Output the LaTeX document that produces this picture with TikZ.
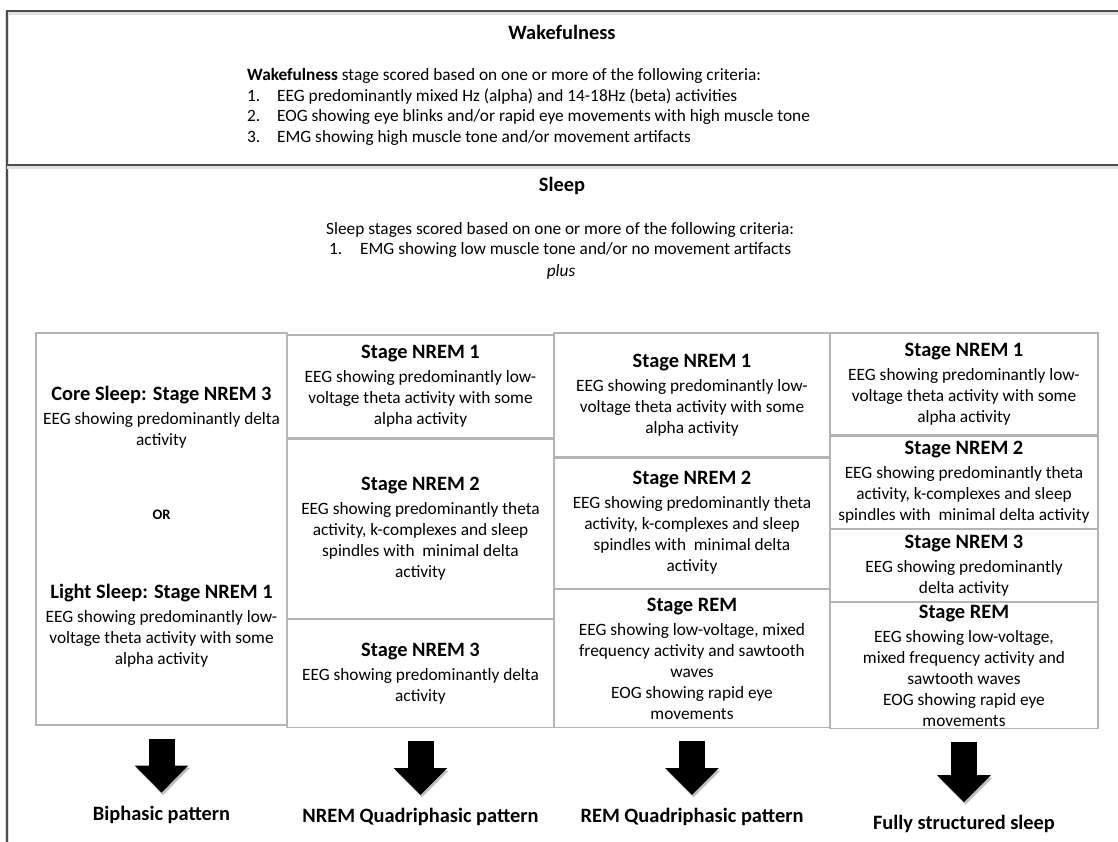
\documentclass[tikz,border=0pt]{standalone}
\usepackage{fontspec}
\setmainfont{Carlito}
\usepackage{tikz}
\usetikzlibrary{positioning}
\usetikzlibrary{arrows.meta}
\definecolor{framegray}{HTML}{4D4D4D}
\definecolor{boxgray}{HTML}{B4B4B4}
\newcommand{\bodyfont}{\fontsize{17.3}{21}\selectfont}
\newcommand{\stagefont}{\fontsize{20.4}{24}\selectfont\bfseries}
\newcommand{\stagehead}[1]{{\stagefont #1}\\[3pt]}

\begin{document}
\begin{tikzpicture}[x=1pt,y=-1pt]
				\tikzstyle{every node}=[inner sep=0pt,font=\bodyfont]
				\tikzstyle{frame}=[draw=framegray,line width=2.4pt,preaction={draw=black!12,line width=4pt,transform canvas={yshift=-2.5pt}}]
				\tikzstyle{title}=[font=\stagefont]
				\tikzstyle{stagebox}=[draw=boxgray,line width=1.2pt,align=center]
				\tikzstyle{lbl}=[font=\stagefont]
				\tikzstyle{blkarrow}=[draw=black,line width=26pt,-{Triangle[width=52pt,length=27pt]},shorten <=13pt,shorten >=13pt,preaction={draw=black!25,transform canvas={shift={(1.5pt,-2.5pt)}}}]
				
				\useasboundingbox (0,0) rectangle (1118,842);
				\draw[frame] (7,842) -- (7,11) -- (1118,11);
				\draw[frame] (7,165) -- (1118,165);
				
				\node[title] (wake) at (562,32) {Wakefulness};
				\node[anchor=west,align=left,font=\fontsize{17.3}{20.7}\selectfont] (wakecrit) at (247,107) {\textbf{Wakefulness} stage scored based on one or more of the following criteria:\\
					\makebox[30pt][l]{1.}EEG predominantly mixed Hz (alpha) and 14-18Hz (beta) activities\\
					\makebox[30pt][l]{2.}EOG showing eye blinks and/or rapid eye movements with high muscle tone\\
					\makebox[30pt][l]{3.}EMG showing high muscle tone and/or movement artifacts};
				\node[title] (sleep) at (562,186) {Sleep};
				\node[anchor=west,align=left,font=\fontsize{17.3}{20.7}\selectfont] (sleepcrit) at (326,240) {Sleep stages scored based on one or more of the following criteria:\\
					\hspace*{3pt}\makebox[31pt][l]{1.}EMG showing low muscle tone and/or no movement artifacts};
				\node[font=\bodyfont\itshape] (plus) at (561,272) {plus};
				
				\node[stagebox,minimum width=251pt,minimum height=392pt] (c1) at (161.5,529) {};
				\node[align=center] (core) at (161.5,417) {\stagehead{Core Sleep: Stage NREM 3}EEG showing predominantly delta\\ activity};
				\node[font=\fontsize{14.5}{17}\selectfont\bfseries] (or) at (161.5,515) {OR};
				\node[align=center] (light) at (161.5,626) {\stagehead{Light Sleep: Stage NREM 1}EEG showing predominantly low-\\ voltage theta activity with some\\ alpha activity};
				
				\node[stagebox,minimum width=267pt,minimum height=103pt] (n21) at (420.5,386.5) {\stagehead{Stage NREM 1}EEG showing predominantly low-\\ voltage theta activity with some\\ alpha activity};
				\node[stagebox,minimum width=267pt,minimum height=179pt,below=0pt of n21] (n22) {\stagehead{Stage NREM 2}EEG showing predominantly theta\\ activity, k-complexes and sleep\\ spindles with\ \ minimal delta\\ activity};
				\node[stagebox,minimum width=267pt,minimum height=108pt,below=0pt of n22] (n23) {\stagehead{Stage NREM 3}EEG showing predominantly delta\\ activity};
				
				\node[stagebox,minimum width=276pt,minimum height=124pt] (n31) at (692,395) {\stagehead{Stage NREM 1}EEG showing predominantly low-\\ voltage theta activity with some\\ alpha activity};
				\node[stagebox,minimum width=276pt,minimum height=130pt,below=0pt of n31] (n32) {\stagehead{Stage NREM 2}EEG showing predominantly theta\\ activity, k-complexes and sleep\\ spindles with\ \ minimal delta\\ activity};
				\node[stagebox,minimum width=276pt,minimum height=138pt,below=0pt of n32] (r3) {\stagehead{Stage REM}EEG showing low-voltage, mixed\\ frequency activity and sawtooth\\ waves\\ EOG showing rapid eye\\ movements};
				
				\node[stagebox,minimum width=268pt,minimum height=102pt] (n41) at (964,384) {\stagehead{Stage NREM 1}EEG showing predominantly low-\\ voltage theta activity with some\\ alpha activity};
				\node[stagebox,minimum width=268pt,minimum height=92pt,below=0pt of n41] (n42) {\stagehead{Stage NREM 2}EEG showing predominantly theta\\ activity, k-complexes and sleep\\ spindles with\ \ minimal delta activity};
				\node[stagebox,minimum width=268pt,minimum height=72pt,below=0pt of n42] (n43) {\stagehead{Stage NREM 3}EEG showing predominantly\\ delta activity};
				\node[stagebox,minimum width=268pt,minimum height=126pt,below=0pt of n43] (r4) {\stagehead{Stage REM}EEG showing low-voltage,\\ mixed frequency activity and\\ sawtooth waves\\ EOG showing rapid eye\\ movements};
				
				\node[lbl,below=80pt of c1] (bi) {Biphasic pattern};
				\node[lbl,below=80pt of n23] (nquad) {NREM Quadriphasic pattern};
				\node[lbl,below=80pt of r3] (rquad) {REM Quadriphasic pattern};
				\node[lbl,below=86pt of r4] (full) {Fully structured sleep};
				
				\draw[blkarrow] (c1) -- (bi);
				\draw[blkarrow] (n23) -- (nquad);
				\draw[blkarrow] (r3) -- (rquad);
				\draw[blkarrow] (r4) -- (full);
\end{tikzpicture}
\end{document}
